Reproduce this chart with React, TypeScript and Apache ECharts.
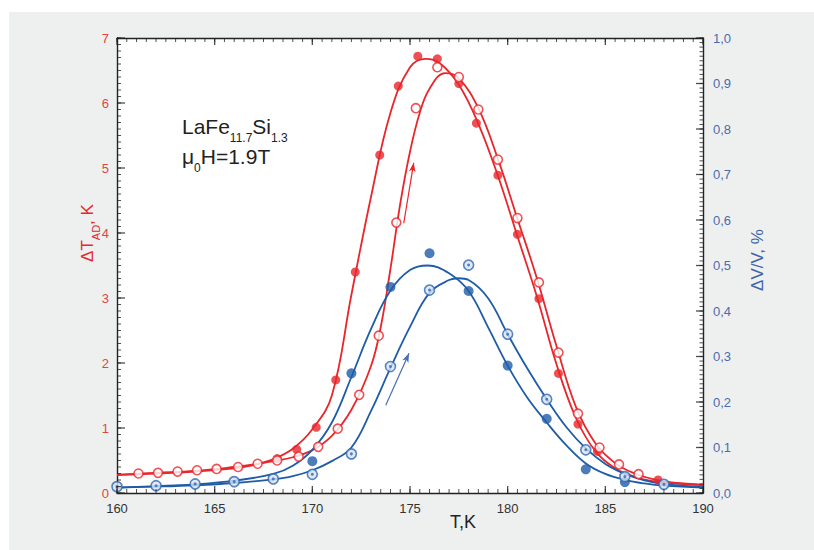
import React, { useEffect, useRef } from 'react';
import * as echarts from 'echarts';

// ---------- measured points ----------
// red filled circles (ΔT_AD, K)
const redFilledT = [168.2, 169.2, 170.2, 171.2, 172.2, 173.45, 174.4, 175.4, 176.4, 177.5, 178.4, 179.5, 180.5, 181.6, 182.6, 183.6, 184.6, 187.7];
const redFilledV = [0.53, 0.67, 1.01, 1.74, 3.4, 5.2, 6.26, 6.72, 6.68, 6.3, 5.69, 4.89, 3.98, 2.99, 1.84, 1.06, 0.64, 0.2];
// red open circles (ΔT_AD, K)
const redOpenT = [161.1, 162.1, 163.1, 164.1, 165.1, 166.2, 167.2, 168.2, 169.3, 170.3, 171.3, 172.4, 173.4, 174.3, 175.3, 176.4, 177.5, 178.5, 179.5, 180.5, 181.6, 182.6, 183.6, 184.7, 185.7, 186.7];
const redOpenV = [0.3, 0.31, 0.33, 0.35, 0.37, 0.4, 0.45, 0.5, 0.56, 0.71, 0.99, 1.51, 2.42, 4.16, 5.92, 6.55, 6.4, 5.9, 5.13, 4.23, 3.24, 2.16, 1.22, 0.7, 0.44, 0.29];
// blue filled circles (ΔV/V, %)
const blueFilledT = [170, 172, 174, 176, 178, 180, 182, 184, 186];
const blueFilledW = [0.07, 0.263, 0.453, 0.527, 0.444, 0.28, 0.163, 0.052, 0.024];
// blue dotted circles (ΔV/V, %)
const blueDotT = [160, 162, 164, 166, 168, 170, 172, 174, 176, 178, 180, 182, 184, 186, 188];
const blueDotW = [0.014, 0.016, 0.02, 0.025, 0.031, 0.041, 0.086, 0.278, 0.446, 0.501, 0.349, 0.206, 0.095, 0.036, 0.019];

// ---------- fitted curves ----------
const redFilledFitT = [160, 162, 164, 166, 167, 168, 169, 170, 171, 172, 173, 174, 175, 175.8, 176.5, 177.5, 178.5, 179.5, 180.5, 181.5, 182.5, 183.5, 184.5, 185.5, 186.5, 187.5, 188.5, 190];
const redFilledFitV = [0.28, 0.3, 0.33, 0.38, 0.43, 0.52, 0.68, 0.98, 1.5, 3.05, 4.55, 5.85, 6.55, 6.68, 6.62, 6.28, 5.68, 4.88, 3.95, 3.02, 1.98, 1.15, 0.64, 0.38, 0.25, 0.18, 0.15, 0.12];
const redOpenFitT = [160, 162, 164, 166, 167, 168, 169, 170, 171, 172, 173, 173.5, 174, 174.5, 175, 175.5, 176, 176.8, 177.5, 178.5, 179.5, 180.5, 181.5, 182.5, 183.5, 184.5, 185.5, 186.5, 187.5, 188.5, 190];
const redOpenFitV = [0.28, 0.31, 0.34, 0.4, 0.44, 0.49, 0.55, 0.66, 0.88, 1.28, 1.95, 2.55, 3.45, 4.45, 5.25, 5.85, 6.22, 6.46, 6.38, 5.92, 5.14, 4.22, 3.3, 2.26, 1.32, 0.76, 0.46, 0.3, 0.21, 0.16, 0.13];
const blueFilledFitT = [160, 162, 164, 166, 168, 169, 170, 171, 172, 173, 174, 175, 175.9, 177, 178, 179, 180, 181, 182, 183, 184, 185, 186, 187, 188, 190];
const blueFilledFitW = [0.012, 0.015, 0.019, 0.027, 0.042, 0.06, 0.095, 0.155, 0.255, 0.36, 0.445, 0.49, 0.5, 0.483, 0.444, 0.364, 0.28, 0.21, 0.155, 0.105, 0.065, 0.042, 0.029, 0.021, 0.016, 0.012];
const blueDotFitT = [160, 162, 164, 166, 168, 169, 170, 171, 172, 173, 174, 175, 176, 177, 177.5, 178, 179, 180, 181, 182, 183, 184, 185, 186, 187, 188, 190];
const blueDotFitW = [0.012, 0.014, 0.017, 0.022, 0.03, 0.037, 0.05, 0.07, 0.1, 0.18, 0.275, 0.365, 0.44, 0.468, 0.472, 0.468, 0.428, 0.349, 0.274, 0.206, 0.145, 0.098, 0.064, 0.042, 0.028, 0.02, 0.013];

// ---------- arrows (data coordinates) ----------
const redArrow = [[174.68, 4.15], [175.19, 5.08]];
const blueArrow = [[173.76, 0.193], [174.95, 0.307]];

// ---------- axes ----------
const xMin = 160, xMax = 190, xStep = 5, xMinorStep = 0.5;
const leftMin = 0, leftMax = 7, leftStep = 1, leftMinorStep = 0.1;
const rightMin = 0, rightMax = 1, rightStep = 0.1, rightMinorStep = 0.01;

const RED = '#e8262b';
const BLUE = '#1f5ca8';
const INK = '#222';
const FONT = '"Liberation Sans", Arial, sans-serif';

const W = 814, H = 550;
const GRID = { left: 117, right: 111, top: 38, bottom: 57 };

const zip = (a: number[], b: number[]) => a.map((x, i) => [x, b[i]]);
// tick positions along an axis (same as the axis' own tick values)
const ticksOf = (min: number, max: number, step: number) =>
  Array.from({ length: Math.round((max - min) / step) + 1 }, (_, i) => +(min + i * step).toFixed(4));

export default function App() {
  const ref = useRef<HTMLDivElement>(null);
  useEffect(() => {
    const chart = echarts.init(ref.current!, null, { renderer: 'svg' });
    const frame = { color: INK, width: 1.4 };
    const noTicks = { axisTick: { show: false }, minorTick: { show: false }, splitLine: { show: false }, minorSplitLine: { show: false } };
    const sub = (fill: string, size: number, subSize: number, lh: number, pad: number) => ({
      m: { fontSize: size, fontFamily: FONT, fill, lineHeight: lh, verticalAlign: 'top' },
      s: { fontSize: subSize, fontFamily: FONT, fill, verticalAlign: 'top', padding: [pad, 0, 0, 0] },
    });
    const line = (t: number[], v: number[], yi: number, color: string) => ({
      type: 'line', xAxisIndex: 0, yAxisIndex: yi, data: zip(t, v), smooth: 0.4,
      showSymbol: false, symbol: 'none', lineStyle: { color, width: 1.8 }, z: 2,
    });
    // inward tick marks, placed through the axes' own scales
    const tickMarks = (data: number[][], yi: number, size: number[], offset: number[]) => ({
      type: 'scatter', xAxisIndex: 0, yAxisIndex: yi, data, symbol: 'rect', symbolSize: size, symbolOffset: offset,
      itemStyle: { color: INK }, silent: true, clip: false, z: 6, tooltip: { show: false },
    });
    const xMajor = ticksOf(xMin, xMax, xStep);
    const xMinor = ticksOf(xMin, xMax, xMinorStep);
    const lMajor = ticksOf(leftMin, leftMax, leftStep);
    const lMinor = ticksOf(leftMin, leftMax, leftMinorStep);
    const rMajor = ticksOf(rightMin, rightMax, rightStep);
    const rMinor = ticksOf(rightMin, rightMax, rightMinorStep);

    const option: any = {
      animation: false,
      backgroundColor: 'transparent',
      textStyle: { fontFamily: FONT },
      graphic: [
        { type: 'text', x: 182, y: 116, style: { text: '{m|LaFe}{s|11.7}{m|Si}{s|1.3}', verticalAlign: 'top', align: 'left', rich: sub(INK, 21, 12, 24, 16) } },
        { type: 'text', x: 182, y: 146, style: { text: '{m|μ}{s|0}{m|H=1.9T}', verticalAlign: 'top', align: 'left', rich: sub(INK, 21, 12, 24, 16) } },
        { type: 'text', x: 90, y: 233, rotation: Math.PI / 2, style: { text: '{m|ΔT}{s|AD}{m|, K}', align: 'center', verticalAlign: 'middle', rich: sub(RED, 17, 11, 20, 12) } },
        { type: 'text', x: 757, y: 260, rotation: Math.PI / 2, style: { text: 'ΔV/V, %', align: 'center', verticalAlign: 'middle', fontSize: 17, fontFamily: FONT, fill: '#3f64a8' } },
        { type: 'text', x: 463, y: 522, style: { text: 'T,K', align: 'center', verticalAlign: 'middle', fontSize: 18, fontFamily: FONT, fill: INK } },
      ],
      grid: { ...GRID, show: false },
      xAxis: [
        {
          type: 'value', min: xMin, max: xMax, interval: xStep, position: 'bottom', ...noTicks,
          axisLine: { show: true, onZero: false, lineStyle: frame },
          axisLabel: { show: true, color: '#333', fontSize: 13, margin: 9, fontFamily: FONT },
        },
        {
          type: 'value', min: xMin, max: xMax, interval: xStep, position: 'top', ...noTicks,
          axisLine: { show: true, onZero: false, lineStyle: frame },
          axisLabel: { show: false },
        },
      ],
      yAxis: [
        {
          type: 'value', min: leftMin, max: leftMax, interval: leftStep, position: 'left', ...noTicks,
          axisLine: { show: true, onZero: false, lineStyle: frame },
          axisLabel: { color: '#e2453f', fontSize: 13, margin: 8, fontFamily: FONT },
        },
        {
          type: 'value', min: rightMin, max: rightMax, interval: rightStep, position: 'right', ...noTicks,
          axisLine: { show: true, onZero: false, lineStyle: frame },
          axisLabel: {
            color: '#4a6cad', fontSize: 13, margin: 10, fontFamily: FONT,
            formatter: (v: number) => v.toFixed(1).replace('.', ','),
          },
        },
      ],
      series: [
        // axis ticks (inward)
        tickMarks(xMajor.map((t) => [t, leftMin]), 0, [1.3, 7], [0, -3.5]),
        tickMarks(xMinor.map((t) => [t, leftMin]), 0, [1, 4], [0, -2]),
        tickMarks(xMajor.map((t) => [t, leftMax]), 0, [1.3, 7], [0, 3.5]),
        tickMarks(xMinor.map((t) => [t, leftMax]), 0, [1, 4], [0, 2]),
        tickMarks(lMajor.map((v) => [xMin, v]), 0, [8, 1.3], [4, 0]),
        tickMarks(lMinor.map((v) => [xMin, v]), 0, [4, 1], [2, 0]),
        tickMarks(rMajor.map((w) => [xMax, w]), 1, [7, 1.3], [-3.5, 0]),
        tickMarks(rMinor.map((w) => [xMax, w]), 1, [3.5, 1], [-1.75, 0]),
        // fitted curves
        line(redFilledFitT, redFilledFitV, 0, RED),
        line(redOpenFitT, redOpenFitV, 0, RED),
        line(blueFilledFitT, blueFilledFitW, 1, BLUE),
        line(blueDotFitT, blueDotFitW, 1, BLUE),
        // measured points
        { type: 'scatter', xAxisIndex: 0, yAxisIndex: 0, data: zip(redFilledT, redFilledV), symbolSize: 9, itemStyle: { color: RED }, z: 3, clip: false },
        {
          type: 'scatter', xAxisIndex: 0, yAxisIndex: 0, data: zip(redOpenT, redOpenV), symbolSize: 9, clip: false,
          itemStyle: { color: '#ffffff', borderColor: RED, borderWidth: 1.6 }, z: 4,
          markLine: {
            silent: true, symbol: ['none', 'arrow'], symbolSize: [5, 9], label: { show: false },
            lineStyle: { color: RED, width: 1.2, type: 'solid' },
            data: [[{ coord: redArrow[0] }, { coord: redArrow[1] }]],
          },
        },
        { type: 'scatter', xAxisIndex: 0, yAxisIndex: 1, data: zip(blueFilledT, blueFilledW), symbolSize: 10, itemStyle: { color: BLUE }, z: 3, clip: false },
        { type: 'scatter', xAxisIndex: 0, yAxisIndex: 1, data: zip(blueDotT, blueDotW), symbolSize: 10, clip: false, itemStyle: { color: '#d8e4f3', borderColor: '#2f68b4', borderWidth: 1.6 }, z: 4 },
        {
          type: 'scatter', xAxisIndex: 0, yAxisIndex: 1, data: zip(blueDotT, blueDotW), symbolSize: 3, clip: false, itemStyle: { color: '#2f68b4' }, z: 5,
          markLine: {
            silent: true, symbol: ['none', 'arrow'], symbolSize: [5, 9], label: { show: false },
            lineStyle: { color: '#4a6cb8', width: 1.2, type: 'solid' },
            data: [[{ coord: blueArrow[0] }, { coord: blueArrow[1] }]],
          },
        },
      ],
    };
    chart.setOption(option);
    return () => chart.dispose();
  }, []);
  return (
    <div style={{ position: 'fixed', left: 0, top: 0, width: W, height: H, background: '#ffffff' }}>
      <div style={{ position: 'absolute', left: 9, top: 12, width: W - 9, height: H - 12, background: '#eef0f0' }} />
      <div style={{ position: 'absolute', left: GRID.left, top: GRID.top, width: W - GRID.left - GRID.right, height: H - GRID.top - GRID.bottom, background: '#ffffff' }} />
      <div ref={ref} style={{ position: 'absolute', left: 0, top: 0, width: W, height: H }} />
    </div>
  );
}
